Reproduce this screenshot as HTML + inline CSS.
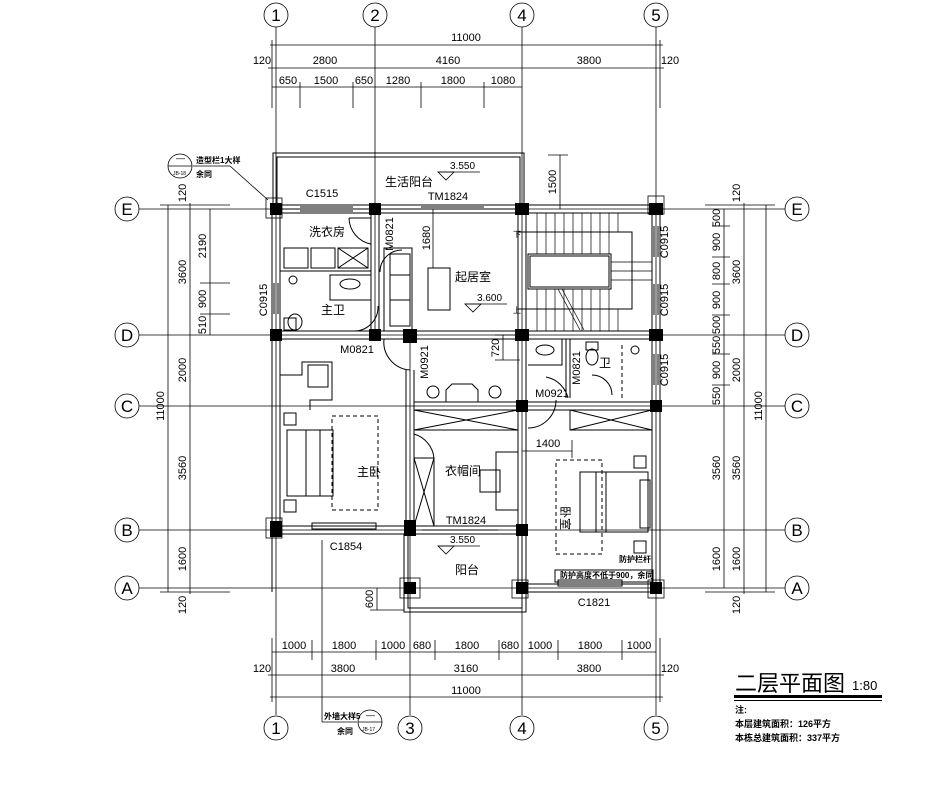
<!DOCTYPE html>
<html><head><meta charset="utf-8"><style>
html,body{margin:0;padding:0;background:#fff;}
svg{display:block;}
text{font-family:"Liberation Sans","Noto Sans CJK SC",sans-serif;fill:#000;}
.z{font-family:"Liberation Sans","Noto Sans CJK SC",sans-serif;font-size:12px;}
</style></head><body>
<svg width="933" height="795" viewBox="0 0 933 795" xmlns="http://www.w3.org/2000/svg">
<g stroke="#000" fill="none" stroke-width="0.8">
<line x1="276" y1="27" x2="276" y2="715"/>
<line x1="375" y1="27" x2="375" y2="340"/>
<line x1="410" y1="335" x2="410" y2="715"/>
<line x1="522" y1="27" x2="522" y2="715"/>
<line x1="656" y1="27" x2="656" y2="715"/>
<line x1="139" y1="209" x2="785" y2="209"/>
<line x1="139" y1="335" x2="785" y2="335"/>
<line x1="139" y1="406" x2="785" y2="406"/>
<line x1="139" y1="530" x2="785" y2="530"/>
<line x1="139" y1="588" x2="785" y2="588"/>
<circle cx="276" cy="15" r="12"/><circle cx="375" cy="15" r="12"/><circle cx="522" cy="15" r="12"/><circle cx="656" cy="15" r="12"/>
<circle cx="276" cy="728" r="12"/><circle cx="410" cy="728" r="12"/><circle cx="522" cy="728" r="12"/><circle cx="656" cy="728" r="12"/>
<circle cx="127" cy="209" r="12"/><circle cx="127" cy="335" r="12"/><circle cx="127" cy="406" r="12"/><circle cx="127" cy="530" r="12"/><circle cx="127" cy="588" r="12"/>
<circle cx="797" cy="209" r="12"/><circle cx="797" cy="335" r="12"/><circle cx="797" cy="406" r="12"/><circle cx="797" cy="530" r="12"/><circle cx="797" cy="588" r="12"/>
<line x1="270" y1="45" x2="663" y2="45"/>
<line x1="268" y1="68" x2="664" y2="68"/>
<line x1="272" y1="87" x2="522" y2="87"/>
<line x1="272" y1="40" x2="272" y2="108"/><line x1="660" y1="40" x2="660" y2="108"/>
<line x1="300" y1="82" x2="300" y2="108"/><line x1="353" y1="82" x2="353" y2="108"/><line x1="421" y1="82" x2="421" y2="108"/><line x1="484" y1="82" x2="484" y2="108"/>
<line x1="272" y1="652" x2="656" y2="652"/>
<line x1="268" y1="675" x2="664" y2="675"/>
<line x1="270" y1="697" x2="663" y2="697"/>
<line x1="272" y1="638" x2="272" y2="702"/><line x1="660" y1="638" x2="660" y2="702"/>
<line x1="312" y1="640" x2="312" y2="660"/><line x1="376" y1="640" x2="376" y2="660"/><line x1="435" y1="640" x2="435" y2="660"/><line x1="499" y1="640" x2="499" y2="660"/><line x1="558" y1="640" x2="558" y2="660"/><line x1="622" y1="640" x2="622" y2="660"/>
<line x1="322" y1="540" x2="322" y2="722"/><line x1="322" y1="722" x2="357" y2="722"/>
<line x1="168" y1="205" x2="168" y2="592"/>
<line x1="190" y1="203" x2="190" y2="594"/>
<line x1="210" y1="209" x2="210" y2="335"/>
<line x1="160" y1="205" x2="230" y2="205"/><line x1="160" y1="592" x2="230" y2="592"/>
<line x1="200" y1="283" x2="230" y2="283"/><line x1="200" y1="314" x2="230" y2="314"/>
<line x1="724" y1="209" x2="724" y2="588"/>
<line x1="744" y1="203" x2="744" y2="594"/>
<line x1="766" y1="205" x2="766" y2="592"/>
<line x1="705" y1="205" x2="775" y2="205"/><line x1="705" y1="592" x2="775" y2="592"/>
<line x1="712" y1="226" x2="730" y2="226"/><line x1="712" y1="257" x2="730" y2="257"/><line x1="712" y1="284" x2="730" y2="284"/><line x1="712" y1="315" x2="730" y2="315"/><line x1="712" y1="354" x2="730" y2="354"/><line x1="712" y1="385" x2="730" y2="385"/>
<line x1="560" y1="155" x2="560" y2="209"/><line x1="548" y1="155" x2="568" y2="155"/>
<line x1="433" y1="209" x2="433" y2="268"/>
<line x1="503" y1="335" x2="503" y2="360"/><line x1="495" y1="335" x2="520" y2="335"/><line x1="495" y1="360" x2="520" y2="360"/>
<line x1="522" y1="451" x2="572" y2="451"/><line x1="572" y1="440" x2="572" y2="458"/>
<line x1="377" y1="588" x2="377" y2="610"/><line x1="370" y1="610" x2="404" y2="610"/>
<line x1="193" y1="166" x2="230" y2="166"/><line x1="230" y1="166" x2="268" y2="200"/>
<circle cx="180" cy="166" r="12"/><line x1="168" y1="166" x2="192" y2="166"/>
<circle cx="370" cy="722" r="12"/><line x1="358" y1="722" x2="382" y2="722"/>
</g>
<g stroke="#000" fill="none" stroke-width="1">
<rect x="273" y="153" width="251" height="56"/><rect x="277" y="157" width="243" height="52"/>
<line x1="272" y1="205" x2="660" y2="205"/><line x1="272" y1="213" x2="660" y2="213"/>
<line x1="272" y1="205" x2="272" y2="592"/><line x1="280" y1="205" x2="280" y2="530"/>
<line x1="652" y1="205" x2="652" y2="588"/><line x1="660" y1="205" x2="660" y2="592"/>
<line x1="272" y1="526" x2="410" y2="526"/><line x1="272" y1="534" x2="410" y2="534"/>
<line x1="410" y1="526" x2="522" y2="526"/><line x1="410" y1="534" x2="522" y2="534"/>
<line x1="522" y1="584" x2="660" y2="584"/><line x1="522" y1="592" x2="660" y2="592"/>
<rect x="404" y="534" width="122" height="78"/><rect x="408" y="534" width="114" height="74"/>
<line x1="371" y1="213" x2="371" y2="335"/><line x1="379" y1="213" x2="379" y2="335"/>
<line x1="280" y1="331" x2="652" y2="331"/><line x1="280" y1="339" x2="652" y2="339"/>
<line x1="406" y1="370" x2="406" y2="526"/><line x1="414" y1="370" x2="414" y2="526"/>
<line x1="518" y1="213" x2="518" y2="588"/><line x1="526" y1="213" x2="526" y2="588"/>
<line x1="414" y1="402" x2="652" y2="402"/><line x1="414" y1="410" x2="652" y2="410"/>
<line x1="280" y1="271" x2="371" y2="271"/>
<line x1="566" y1="339" x2="566" y2="398"/><line x1="570" y1="339" x2="570" y2="398"/>
<path d="M349 218 A27 27 0 0 0 371 244"/><line x1="349" y1="218" x2="371" y2="218"/>
<path d="M380 272 A22 22 0 0 1 402 250"/>
<path d="M353 331 A24 24 0 0 0 378 306"/>
<path d="M384 339 A28 28 0 0 0 410 370"/>
<path d="M546 377 A28 28 0 0 1 568 398"/>
<path d="M556 400 A28 28 0 0 1 528 428"/>
<path d="M414 434 A28 28 0 0 1 434 458"/>
<path d="M612 395 A20 20 0 0 0 592 375"/>
<line x1="300" y1="207" x2="353" y2="207"/><line x1="300" y1="211" x2="353" y2="211"/>
<line x1="421" y1="207" x2="484" y2="207"/>
<line x1="274" y1="283" x2="274" y2="314"/><line x1="278" y1="283" x2="278" y2="314"/>
<line x1="654" y1="226" x2="654" y2="257"/><line x1="658" y1="226" x2="658" y2="257"/>
<line x1="654" y1="284" x2="654" y2="315"/><line x1="658" y1="284" x2="658" y2="315"/>
<line x1="654" y1="354" x2="654" y2="385"/><line x1="658" y1="354" x2="658" y2="385"/>
<rect x="312" y="523" width="64" height="6"/>
<rect x="558" y="580" width="64" height="6"/>
<rect x="555" y="570" width="98" height="12"/>
<line x1="422" y1="530" x2="498" y2="530"/>
<rect x="528" y="254" width="83" height="35"/><rect x="530" y="256" width="79" height="31"/>
<path d="M518 232 H632 V309 H518"/>
<g stroke-width="0.7">
<line x1="537" y1="213" x2="537" y2="254"/><line x1="546" y1="213" x2="546" y2="254"/><line x1="555" y1="213" x2="555" y2="254"/><line x1="564" y1="213" x2="564" y2="254"/><line x1="573" y1="213" x2="573" y2="254"/><line x1="582" y1="213" x2="582" y2="254"/><line x1="591" y1="213" x2="591" y2="254"/><line x1="600" y1="213" x2="600" y2="254"/><line x1="609" y1="213" x2="609" y2="254"/><line x1="618" y1="213" x2="618" y2="232"/>
<line x1="537" y1="289" x2="537" y2="331"/><line x1="546" y1="289" x2="546" y2="331"/><line x1="555" y1="289" x2="555" y2="331"/><line x1="564" y1="289" x2="564" y2="331"/><line x1="573" y1="289" x2="573" y2="331"/><line x1="582" y1="289" x2="582" y2="331"/><line x1="591" y1="289" x2="591" y2="331"/><line x1="600" y1="289" x2="600" y2="331"/><line x1="609" y1="289" x2="609" y2="331"/><line x1="618" y1="309" x2="618" y2="331"/>
<line x1="611" y1="262" x2="652" y2="262"/><line x1="611" y1="271" x2="652" y2="271"/><line x1="611" y1="280" x2="652" y2="280"/>
<line x1="558" y1="289" x2="580" y2="330"/><line x1="562" y1="289" x2="584" y2="330"/>
</g>
<rect x="284" y="248" width="24" height="20"/><rect x="311" y="248" width="24" height="20"/><rect x="338" y="248" width="30" height="20"/>
<line x1="338" y1="248" x2="368" y2="268"/><line x1="368" y1="248" x2="338" y2="268"/>
<ellipse cx="350" cy="284" rx="10" ry="5"/><path d="M330 275 H371 V300 H330 Z"/>
<path d="M284 318 h12 v12 h-12 z"/><ellipse cx="295" cy="322" rx="7" ry="8"/>
<circle cx="293" cy="280" r="4"/>
<ellipse cx="545" cy="350" rx="9" ry="5"/><path d="M528 339 H562 V365 H528"/>
<path d="M586 342 h12 v8 h-12 z"/><ellipse cx="592" cy="357" rx="6" ry="8"/>
<circle cx="635" cy="350" r="4"/>
<line x1="622" y1="345" x2="622" y2="400" stroke-dasharray="4 3"/>
<rect x="384" y="248" width="28" height="83"/><rect x="390" y="254" width="20" height="72"/>
<line x1="390" y1="275" x2="410" y2="275"/><line x1="390" y1="300" x2="410" y2="300"/>
<rect x="428" y="268" width="22" height="42"/>
<circle cx="433" cy="392" r="6"/><circle cx="495" cy="392" r="6"/><path d="M446 402 V390 L452 384 H472 L478 390 V402"/>
<path d="M280 375 H302 V362 H332 V400 H310 V410"/>
<rect x="308" y="365" width="20" height="22"/>
<rect x="287" y="430" width="46" height="66"/><line x1="306" y1="430" x2="306" y2="496"/><line x1="320" y1="430" x2="320" y2="496"/>
<rect x="284" y="413" width="12" height="12"/><rect x="284" y="500" width="12" height="12"/>
<rect x="332" y="416" width="46" height="94" stroke-dasharray="4 3"/>
<rect x="414" y="410" width="104" height="20"/><line x1="414" y1="410" x2="518" y2="430"/><line x1="518" y1="410" x2="414" y2="430"/>
<rect x="414" y="458" width="20" height="68"/><line x1="414" y1="458" x2="434" y2="526"/><line x1="434" y1="458" x2="414" y2="526"/>
<rect x="496" y="452" width="22" height="58"/><rect x="480" y="470" width="20" height="22"/>
<rect x="570" y="410" width="82" height="20"/><line x1="570" y1="410" x2="652" y2="430"/><line x1="652" y1="410" x2="570" y2="430"/>
<rect x="580" y="472" width="68" height="60"/><line x1="596" y1="472" x2="596" y2="532"/><line x1="606" y1="472" x2="606" y2="532"/>
<rect x="634" y="456" width="12" height="12"/><rect x="634" y="541" width="12" height="12"/>
<rect x="556" y="460" width="46" height="94" stroke-dasharray="4 3"/>
<rect x="640" y="480" width="10" height="48"/>
</g>
<g fill="#000">
<rect x="270" y="203" width="12" height="12"/><rect x="369" y="203" width="12" height="12"/><rect x="515" y="203" width="14" height="12"/><rect x="649" y="203" width="14" height="12"/>
<rect x="270" y="329" width="12" height="12"/><rect x="369" y="329" width="12" height="12"/><rect x="403" y="329" width="14" height="14"/><rect x="515" y="329" width="14" height="12"/><rect x="649" y="329" width="14" height="12"/>
<rect x="516" y="400" width="12" height="12"/><rect x="650" y="400" width="12" height="12"/>
<rect x="270" y="521" width="12" height="16"/><rect x="404" y="520" width="12" height="16"/><rect x="516" y="524" width="12" height="12"/>
<rect x="404" y="582" width="12" height="12"/><rect x="516" y="582" width="12" height="12"/><rect x="650" y="582" width="12" height="12"/>
</g>
<g fill="none" stroke="#000" stroke-width="0.8">
<rect x="266" y="198" width="16" height="20"/><rect x="648" y="196" width="16" height="18"/><rect x="266" y="518" width="16" height="20"/><rect x="648" y="580" width="16" height="18"/><rect x="400" y="578" width="20" height="20"/><rect x="512" y="580" width="16" height="18"/>
</g>
<g font-family="Liberation Serif,serif" font-size="17" text-anchor="middle">
<text x="276" y="21">1</text><text x="375" y="21">2</text><text x="522" y="21">4</text><text x="656" y="21">5</text>
<text x="276" y="734">1</text><text x="410" y="734">3</text><text x="522" y="734">4</text><text x="656" y="734">5</text>
<text x="127" y="215">E</text><text x="127" y="341">D</text><text x="127" y="412">C</text><text x="127" y="536">B</text><text x="127" y="594">A</text>
<text x="797" y="215">E</text><text x="797" y="341">D</text><text x="797" y="412">C</text><text x="797" y="536">B</text><text x="797" y="594">A</text>
</g>
<g text-anchor="middle" font-size="11">
<text x="466" y="41">11000</text>
<text x="262" y="64">120</text><text x="325" y="64">2800</text><text x="448" y="64">4160</text><text x="589" y="64">3800</text><text x="670" y="64">120</text>
<text x="288" y="84">650</text><text x="326" y="84">1500</text><text x="364" y="84">650</text><text x="398" y="84">1280</text><text x="453" y="84">1800</text><text x="503" y="84">1080</text>
<text x="294" y="649">1000</text><text x="344" y="649">1800</text><text x="393" y="649">1000</text><text x="422" y="649">680</text><text x="467" y="649">1800</text><text x="510" y="649">680</text><text x="540" y="649">1000</text><text x="590" y="649">1800</text><text x="639" y="649">1000</text>
<text x="262" y="672">120</text><text x="343" y="672">3800</text><text x="466" y="672">3160</text><text x="589" y="672">3800</text><text x="670" y="672">120</text>
<text x="466" y="694">11000</text>
<text x="322" y="197">C1515</text><text x="448" y="200">TM1824</text><text x="466" y="524">TM1824</text>
<text x="346" y="550">C1854</text><text x="594" y="606">C1821</text>
<text x="357" y="353">M0821</text><text x="552" y="397">M0921</text>
<text x="548" y="447">1400</text>
</g>
<g font-size="10">
<text x="450" y="169">3.550</text><text x="477" y="301">3.600</text><text x="450" y="543">3.550</text>
</g>
<g text-anchor="middle" font-size="11">
<text transform="translate(164,406) rotate(-90)">11000</text>
<text transform="translate(186,272) rotate(-90)">3600</text>
<text transform="translate(186,370) rotate(-90)">2000</text>
<text transform="translate(186,468) rotate(-90)">3560</text>
<text transform="translate(186,559) rotate(-90)">1600</text>
<text transform="translate(186,193) rotate(-90)">120</text>
<text transform="translate(186,605) rotate(-90)">120</text>
<text transform="translate(206,246) rotate(-90)">2190</text>
<text transform="translate(206,299) rotate(-90)">900</text>
<text transform="translate(206,325) rotate(-90)">510</text>
<text transform="translate(720,218) rotate(-90)">500</text>
<text transform="translate(720,242) rotate(-90)">900</text>
<text transform="translate(720,271) rotate(-90)">800</text>
<text transform="translate(720,300) rotate(-90)">900</text>
<text transform="translate(720,325) rotate(-90)">500</text>
<text transform="translate(720,345) rotate(-90)">550</text>
<text transform="translate(720,370) rotate(-90)">900</text>
<text transform="translate(720,396) rotate(-90)">550</text>
<text transform="translate(720,468) rotate(-90)">3560</text>
<text transform="translate(720,559) rotate(-90)">1600</text>
<text transform="translate(740,272) rotate(-90)">3600</text>
<text transform="translate(740,370) rotate(-90)">2000</text>
<text transform="translate(740,468) rotate(-90)">3560</text>
<text transform="translate(740,559) rotate(-90)">1600</text>
<text transform="translate(740,193) rotate(-90)">120</text>
<text transform="translate(740,605) rotate(-90)">120</text>
<text transform="translate(762,406) rotate(-90)">11000</text>
<text transform="translate(556,182) rotate(-90)">1500</text>
<text transform="translate(430,238) rotate(-90)">1680</text>
<text transform="translate(499,348) rotate(-90)">720</text>
<text transform="translate(373,599) rotate(-90)">600</text>
<text transform="translate(267,300) rotate(-90)">C0915</text>
<text transform="translate(668,242) rotate(-90)">C0915</text>
<text transform="translate(668,300) rotate(-90)">C0915</text>
<text transform="translate(668,370) rotate(-90)">C0915</text>
<text transform="translate(393,234) rotate(-90)">M0821</text>
<text transform="translate(428,362) rotate(-90)">M0921</text>
<text transform="translate(580,368) rotate(-90)">M0821</text>
</g>
<g fill="none" stroke="#000" stroke-width="0.8">
<path d="M438 172 L446 180 L454 172 Z"/><line x1="438" y1="172" x2="480" y2="172"/>
<path d="M465 304 L473 312 L481 304 Z"/><line x1="465" y1="304" x2="507" y2="304"/>
<path d="M438 546 L446 554 L454 546 Z"/><line x1="438" y1="546" x2="480" y2="546"/>
</g>
<g class="z">
<text x="385" y="186">生活阳台</text>
<text x="309" y="236">洗衣房</text>
<text x="321" y="314">主卫</text>
<text x="455" y="281">起居室</text>
<text x="357" y="476">主卧</text>
<text x="445" y="475">衣帽间</text>
<text x="455" y="574">阳台</text>
<text x="599" y="367">卫</text>
<text transform="translate(561,506) rotate(90)">卧室</text>
<text x="513" y="237" font-size="8">下</text><text x="513" y="313" font-size="8">上</text>
<text x="619" y="562" font-size="8" font-weight="bold">防护栏杆</text>
<text x="560" y="578" font-size="8" font-weight="bold">防护高度不低于900，余同</text>
<text x="196" y="163" font-size="8" font-weight="bold">造型栏1大样</text>
<text x="196" y="177" font-size="8" font-weight="bold">余同</text>
<text x="324" y="719" font-size="8" font-weight="bold">外墙大样5</text>
<text x="337" y="734" font-size="8" font-weight="bold">余同</text>
<text x="176" y="161" font-size="9">—</text><text x="173" y="175" font-size="5">JB-18</text>
<text x="366" y="718" font-size="9">—</text><text x="362" y="731" font-size="5">JB-17</text>
</g>
<text x="735" y="691" font-size="22">二层平面图</text>
<text x="852" y="690" font-size="13">1:80</text>
<rect x="734" y="695" width="148" height="3" fill="#000"/>
<rect x="734" y="700" width="148" height="1" fill="#000"/>
<g font-size="9" font-weight="bold">
<text x="735" y="713">注:</text>
<text x="735" y="727">本层建筑面积：126平方</text>
<text x="735" y="741">本栋总建筑面积：337平方</text>
</g>
</svg>
</body></html>
